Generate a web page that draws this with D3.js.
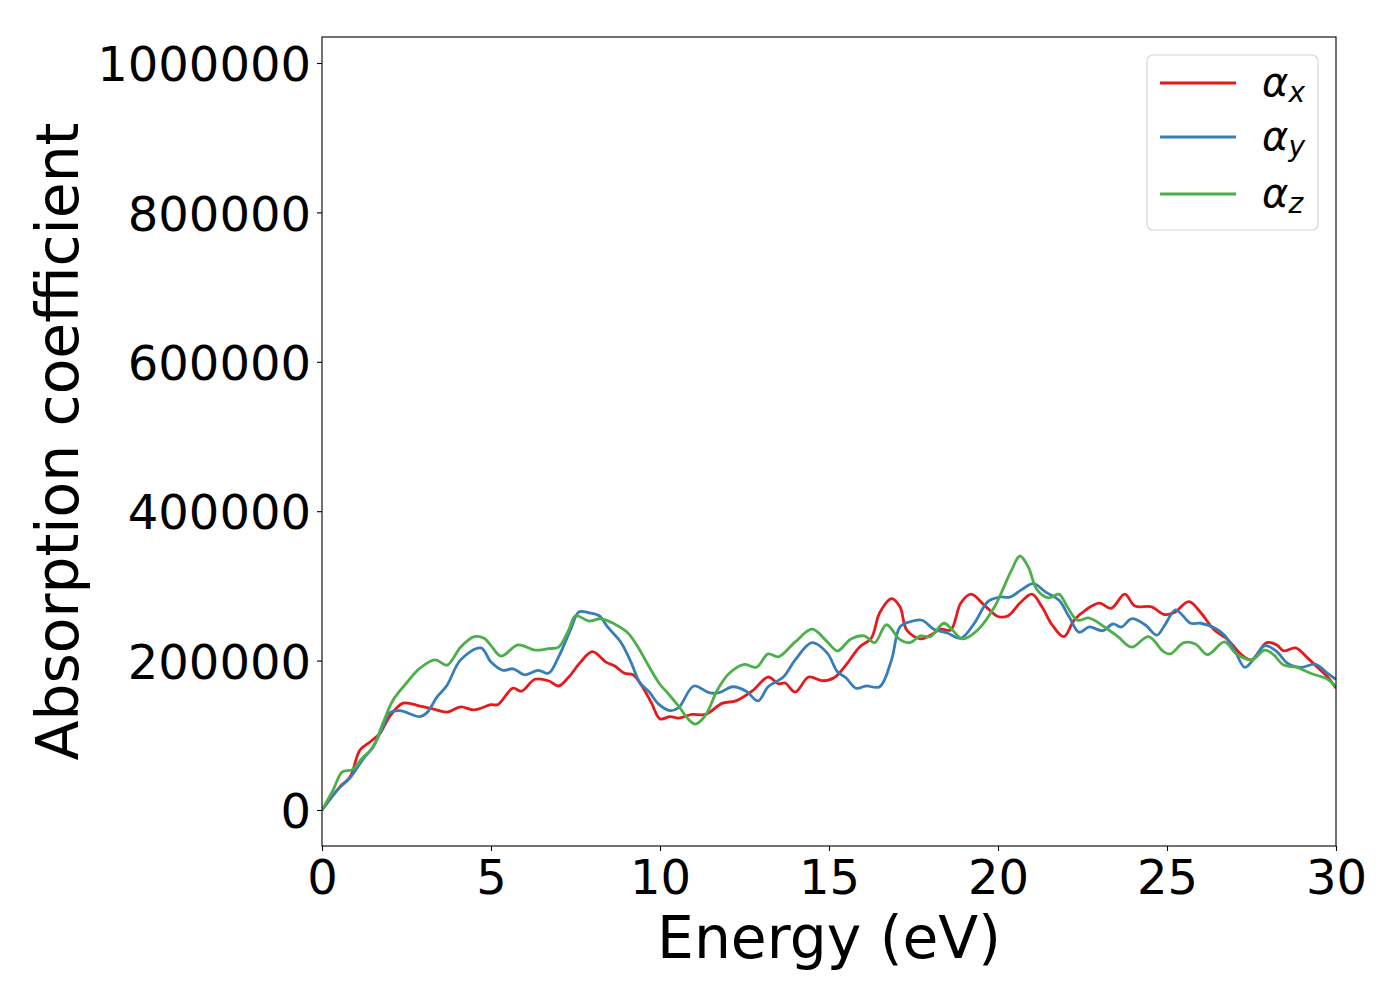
<!DOCTYPE html>
<html>
<head>
<meta charset="utf-8">
<script src="https://cdn.jsdelivr.net/npm/d3@7"></script>
<style>
  body { margin: 0; background: #fff; }
  svg { display: block; font-family: "DejaVu Sans", sans-serif; }
</style>
</head>
<body>
<svg id="chart" width="1400" height="1000"></svg>
<script>
// ---- data ----
const seriesNames = ["x", "y", "z"];
const seriesColors = ["#e41a1c", "#377eb8", "#4daf4a"];
const xTicks = [0, 5, 10, 15, 20, 25, 30];
const yTicks = [0, 200000, 400000, 600000, 800000, 1000000];

const energyX = [0,0.53,0.83,1.12,1.42,1.72,2.0,2.4,2.9,3.3,3.7,4.1,4.5,5.0,5.2,5.65,5.9,6.3,6.7,7.0,7.3,7.65,8.0,8.4,8.65,8.95,9.2,9.45,9.75,10.0,10.3,10.55,10.95,11.35,11.85,12.25,12.75,13.2,13.5,13.7,14.0,14.4,14.8,15.15,15.5,15.9,16.25,16.5,16.85,17.1,17.3,17.7,18.0,18.3,18.6,18.9,19.2,19.6,20.0,20.3,20.65,21.0,21.3,21.6,21.95,22.25,22.6,23.0,23.35,23.75,24.05,24.55,24.9,25.2,25.65,26.0,26.4,26.8,27.2,27.5,27.95,28.25,28.45,28.8,29.15,29.45,29.75,30.0];
const alphaX = [0,31000,44000,80000,91000,103000,125000,143000,139000,135000,131000,138000,134000,141000,141000,163000,159000,175000,173000,166000,178000,198000,212000,198000,193000,183000,181000,167000,143000,122000,125000,123000,128000,128000,143000,146000,160000,178000,169000,170000,158000,178000,173000,177000,194000,218000,230000,264000,283000,272000,241000,229000,234000,242000,241000,277000,289000,274000,259000,260000,277000,289000,272000,248000,232000,254000,268000,277000,270000,289000,273000,272000,262000,264000,279000,264000,241000,228000,208000,201000,224000,221000,213000,217000,204000,191000,178000,163000];

const energyY = [0,0.5,0.83,1.2,1.5,1.8,2.0,2.3,2.9,3.1,3.4,3.7,4.1,4.7,5.0,5.35,5.65,6.0,6.4,6.7,7.0,7.35,7.6,7.9,8.2,8.45,8.85,9.15,9.4,9.7,9.95,10.3,10.55,11.0,11.45,11.75,12.15,12.55,12.9,13.2,13.65,14.0,14.5,14.95,15.25,15.5,15.8,16.1,16.5,16.85,17.1,17.4,17.75,18.1,18.5,18.9,19.3,19.7,20.05,20.35,20.7,21.05,21.4,21.8,22.1,22.4,22.7,23.1,23.4,23.65,23.95,24.35,24.7,24.9,25.25,25.45,25.7,26.0,26.4,26.7,27.0,27.3,27.55,27.9,28.25,28.55,28.95,29.4,29.75,30.0];
const alphaY = [0,29000,43000,67000,84000,111000,130000,133000,125000,130000,151000,167000,201000,217000,198000,187000,189000,181000,187000,183000,205000,241000,265000,264000,260000,245000,224000,197000,171000,157000,142000,133000,137000,166000,157000,157000,165000,159000,146000,165000,178000,201000,224000,210000,185000,177000,163000,166000,165000,201000,245000,252000,254000,242000,237000,230000,250000,279000,285000,285000,295000,303000,292000,281000,259000,238000,245000,240000,249000,245000,256000,248000,234000,245000,268000,261000,250000,250000,244000,234000,214000,191000,201000,220000,212000,197000,191000,195000,183000,175000];

const energyZ = [0,0.33,0.6,0.9,1.2,1.5,1.8,2.1,2.5,2.9,3.35,3.7,4.1,4.5,4.8,5.0,5.3,5.8,6.3,6.7,7.0,7.3,7.5,7.9,8.25,8.65,9.05,9.35,9.65,10.0,10.2,10.55,10.85,11.05,11.35,11.7,12.05,12.5,12.85,13.2,13.5,14.0,14.5,14.95,15.25,15.65,16.05,16.35,16.7,17.1,17.4,17.7,18.0,18.4,18.65,18.95,19.4,19.9,20.1,20.4,20.65,20.9,21.15,21.5,21.8,22.05,22.35,22.7,23.15,23.55,23.95,24.45,24.9,25.1,25.5,25.85,26.2,26.7,27.05,27.5,27.9,28.15,28.45,28.85,29.25,29.75,30.0];
const alphaZ = [0,27000,51000,54000,70000,83000,116000,147000,170000,190000,201000,194000,218000,232000,230000,220000,206000,221000,214000,216000,218000,241000,260000,253000,256000,249000,237000,218000,194000,168000,158000,139000,121000,115000,127000,161000,183000,195000,191000,209000,205000,225000,242000,225000,213000,229000,233000,224000,248000,228000,224000,233000,232000,250000,241000,229000,241000,272000,291000,321000,340000,325000,295000,284000,289000,272000,254000,257000,245000,232000,218000,232000,212000,209000,224000,222000,208000,225000,209000,201000,214000,208000,194000,191000,183000,175000,165000];

const energies = [energyX, energyY, energyZ];
const alphas = [alphaX, alphaY, alphaZ];

// ---- layout ----
const svg = d3.select("#chart");
const L = 322, R = 1336, T = 37, B = 846;

const x = d3.scaleLinear().domain([0, 30]).range([L, R]);
const y = d3.scaleLinear().domain([-48200, 1034800]).range([B, T]);

const clipId = "plotclip";
svg.append("defs").append("clipPath").attr("id", clipId)
  .append("rect").attr("x", L).attr("y", T).attr("width", R - L).attr("height", B - T);

const line = d3.line()
  .x(d => x(d[0])).y(d => y(d[1]))
  .curve(d3.curveCatmullRom.alpha(0.5));

const plot = svg.append("g").attr("clip-path", `url(#${clipId})`);
seriesNames.forEach((n, i) => {
  const pts = energies[i].map((e, j) => [e, alphas[i][j]]);
  plot.append("path")
    .datum(pts)
    .attr("d", line)
    .attr("fill", "none")
    .attr("stroke", seriesColors[i])
    .attr("stroke-width", 2.8)
    .attr("stroke-linejoin", "round");
});

// axes
const xAxis = svg.append("g").attr("transform", `translate(0,${B})`)
  .call(d3.axisBottom(x).tickValues(xTicks).tickFormat(d3.format("d")).tickSize(5).tickPadding(6));
const yAxis = svg.append("g").attr("transform", `translate(${L},0)`)
  .call(d3.axisLeft(y).tickValues(yTicks).tickFormat(d3.format("d")).tickSize(5).tickPadding(6));
[xAxis, yAxis].forEach(a => {
  a.select(".domain").remove();
  a.selectAll("line").attr("stroke", "#000").attr("stroke-width", 1.1);
  a.selectAll("text").attr("font-size", 48).attr("fill", "#000")
    .attr("font-family", "DejaVu Sans, sans-serif");
});
xAxis.selectAll("text").attr("dy", "0.78em");
yAxis.selectAll("text").attr("dy", "0.37em");

// frame
svg.append("rect").attr("x", L).attr("y", T).attr("width", R - L).attr("height", B - T)
  .attr("fill", "none").attr("stroke", "#000").attr("stroke-width", 1.1);

// axis labels
svg.append("text").attr("x", (L + R) / 2).attr("y", 958)
  .attr("text-anchor", "middle").attr("font-size", 58.3).attr("fill", "#000")
  .text("Energy (eV)");
svg.append("text")
  .attr("transform", `translate(78,${(T + B) / 2}) rotate(-90)`)
  .attr("text-anchor", "middle").attr("font-size", 58.3).attr("fill", "#000")
  .text("Absorption coefficient");

// legend
const lg = svg.append("g");
lg.append("rect").attr("x", 1147).attr("y", 55).attr("width", 171).attr("height", 175)
  .attr("rx", 6).attr("ry", 6)
  .attr("fill", "#fff").attr("fill-opacity", 0.8)
  .attr("stroke", "#d5d5d5").attr("stroke-width", 1.2);
const legendY = [83, 137, 194];
seriesNames.forEach((n, i) => {
  lg.append("line").attr("x1", 1160).attr("x2", 1236)
    .attr("y1", legendY[i]).attr("y2", legendY[i])
    .attr("stroke", seriesColors[i]).attr("stroke-width", 2.8);
  const t = lg.append("text").attr("x", 1262).attr("y", legendY[i] + 13)
    .attr("font-size", 40).attr("font-style", "italic").attr("fill", "#000");
  t.append("tspan").text("α");
  t.append("tspan").attr("font-size", 28).attr("dy", 6).text(n);
});
</script>
</body>
</html>
